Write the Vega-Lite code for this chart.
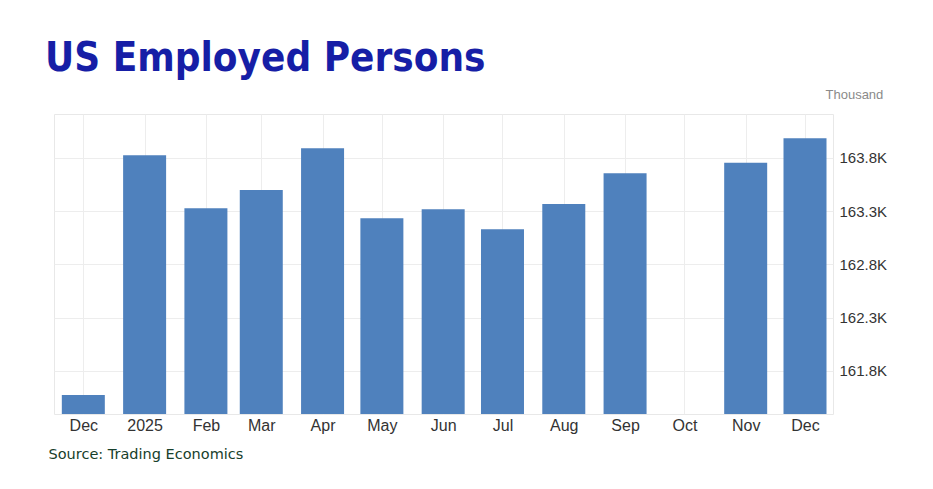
{
  "$schema": "https://vega.github.io/schema/vega-lite/v6.json",
  "width": 779,
  "height": 300,
  "autosize": {"type": "none"},
  "padding": {"left": 54, "top": 114, "right": 100, "bottom": 75},
  "background": "#ffffff",
  "title": {
    "text": "US Employed Persons",
    "anchor": "start",
    "frame": "group",
    "font": "DejaVu Sans Condensed",
    "fontWeight": "bold",
    "fontSize": 40,
    "color": "#161ea6",
    "baseline": "alphabetic",
    "dx": -9,
    "offset": -23
  },
  "config": {
    "view": {"stroke": "#e8e8e8", "strokeWidth": 1},
    "axis": {"gridColor": "#ededed", "gridWidth": 1}
  },
  "data": {
    "values": [
      {"date": "2024-12-01T00:00:00Z", "value": 161574},
      {"date": "2025-01-01T00:00:00Z", "value": 163822},
      {"date": "2025-02-01T00:00:00Z", "value": 163325},
      {"date": "2025-03-01T00:00:00Z", "value": 163497},
      {"date": "2025-04-01T00:00:00Z", "value": 163888},
      {"date": "2025-05-01T00:00:00Z", "value": 163232},
      {"date": "2025-06-01T00:00:00Z", "value": 163316},
      {"date": "2025-07-01T00:00:00Z", "value": 163128},
      {"date": "2025-08-01T00:00:00Z", "value": 163366},
      {"date": "2025-09-01T00:00:00Z", "value": 163654},
      {"date": "2025-11-01T00:00:00Z", "value": 163753},
      {"date": "2025-12-01T00:00:00Z", "value": 163982}
    ]
  },
  "mark": {"type": "bar", "color": "#4f81bd", "width": 43, "clip": true},
  "encoding": {
    "x": {
      "field": "date",
      "type": "temporal",
      "scale": {
        "type": "utc",
        "domain": [1731729888000, 1765770624000],
        "nice": false,
        "padding": 0
      },
      "axis": {
        "title": "Source: Trading Economics",
        "titleFont": "DejaVu Sans",
        "titleFontSize": 14.5,
        "titleFontWeight": "normal",
        "titleColor": "#17402b",
        "titleAnchor": "start",
        "titleAlign": "left",
        "titleBaseline": "alphabetic",
        "titleX": -6,
        "titleY": 44,
        "tickCount": {"interval": "month", "step": 1},
        "labelExpr": "utcmonth(datum.value) == 0 ? utcFormat(datum.value, '%Y') : utcFormat(datum.value, '%b')",
        "labelFont": "Liberation Sans",
        "labelFontSize": 16,
        "labelColor": "#333333",
        "labelPadding": 3,
        "labelOverlap": false,
        "labelFlush": false,
        "labelBound": false,
        "ticks": false,
        "domain": false,
        "grid": true
      }
    },
    "y": {
      "field": "value",
      "type": "quantitative",
      "scale": {"domain": [161396, 164210], "nice": false, "zero": false, "padding": 0},
      "axis": {
        "orient": "right",
        "values": [161800, 162300, 162800, 163300, 163800],
        "labelExpr": "format(datum.value / 1000, '.1f') + 'K'",
        "labelFont": "Liberation Sans",
        "labelFontSize": 15,
        "labelColor": "#333333",
        "labelPadding": 6,
        "ticks": false,
        "domain": false,
        "grid": true,
        "title": "Thousand",
        "titleFont": "Liberation Sans",
        "titleFontSize": 13,
        "titleFontWeight": "normal",
        "titleColor": "#8a8a8a",
        "titleAngle": 0,
        "titleAlign": "left",
        "titleBaseline": "alphabetic",
        "titleX": -8,
        "titleY": -16
      }
    }
  }
}
